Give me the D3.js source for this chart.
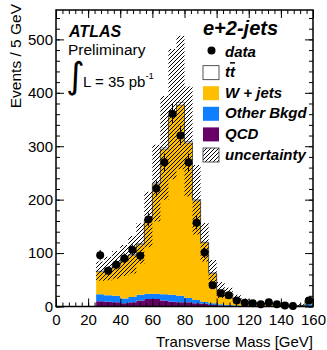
<!DOCTYPE html>
<html>
<head>
<meta charset="utf-8">
<script src="https://cdn.jsdelivr.net/npm/d3@7"></script>
<style>
  body { margin: 0; background: #fff; }
  svg { display: block; font-family: "Liberation Sans", Arial, Helvetica, sans-serif; }
</style>
</head>
<body>
<svg id="chart" width="327" height="350"></svg>
<script>
// bin lower edges in GeV, 5 GeV wide
var binEdges = [25, 30, 35, 40, 45, 50, 55, 60, 65, 70, 75, 80, 85, 90, 95, 100, 105, 110, 115, 120, 125, 130, 135, 140, 145, 150, 155];
var binWidth = 5;

var dataCounts = [96, 67, 78, 90, 106, 95, 163, 221, 270, 361, 320, 270, 157, 101, 40, 25, 21, 11, 7, 6, 4, 8, 4, 2, 1, null, 11];

var qcd       = [10, 9, 8, 6, 8, 11, 14, 14, 11, 9, 8, 8, 6, 5, 3, 2, 1.5, 1, 0.5, 0.5, 0.5, 0.5, 0.3, 0.3, 0.3, 0.3, 1];
var otherBkgd = [13, 12, 12, 9, 10, 11, 10, 10, 12, 13, 12, 8, 6, 3.4, 3, 2, 1.5, 1, 1, 0.5, 0.5, 0.5, 0.5, 0.3, 0.3, 0.3, 3];
var wJets     = [42, 49, 57, 70, 78, 94, 137, 205, 271, 334, 357, 290, 186, 111, 56, 26.5, 21.5, 12.5, 8.2, 5.7, 3.8, 2.8, 2, 1.2, 1.3, 1.3, 7.7];
var ttbar     = [1, 1, 1, 1, 1, 2, 2, 2, 3, 4, 5, 3, 2, 1, 1, 0.5, 0.5, 0.5, 0.3, 0.3, 0.2, 0.2, 0.2, 0.2, 0.1, 0.1, 0.3];
var mcUnc     = [18, 22, 26, 29, 35, 38, 52, 72, 97, 122, 125, 103, 65, 36, 24, 15, 10, 7, 5, 4, 3, 3, 2, 2, 2, 2, 5];

var xTicks = [0, 20, 40, 60, 80, 100, 120, 140, 160];
var yTicks = [0, 100, 200, 300, 400, 500];

var svg = d3.select("#chart"),
    plotL = 56, plotR = 313, plotT = 10, plotB = 306.5;

var x = d3.scaleLinear().domain([0, 160]).range([plotL, plotR]);
var y = d3.scaleLinear().domain([0, 555]).range([plotB, plotT]);

var colors = { qcd: "#660066", other: "#0f7fff", wjets: "#ffbf00", ttbar: "#ffffff" };

var defs = svg.append("defs");
defs.append("pattern")
    .attr("id", "hatch")
    .attr("patternUnits", "userSpaceOnUse")
    .attr("width", 4)
    .attr("height", 4)
    .append("path")
    .attr("d", "M-1,1 l2,-2 M0,4 l4,-4 M3,5 l2,-2")
    .attr("stroke", "#000")
    .attr("stroke-width", 1);

var rows = binEdges.map(function (e, i) {
    return { lo: e, qcd: qcd[i], other: otherBkgd[i], wjets: wJets[i], ttbar: ttbar[i] };
});
// extra point so the last step closes at the right edge
var stepRows = rows.concat([Object.assign({}, rows[rows.length - 1], { lo: binEdges[binEdges.length - 1] + binWidth })]);

var keys = ["qcd", "other", "wjets", "ttbar"];
var stack = d3.stack().keys(keys)(stepRows);

var area = d3.area()
    .curve(d3.curveStepAfter)
    .x(function (d) { return x(d.data.lo); })
    .y0(function (d) { return y(d[0]); })
    .y1(function (d) { return y(d[1]); });

svg.append("g").selectAll("path")
    .data(stack)
    .enter().append("path")
    .attr("d", area)
    .attr("fill", function (d) { return colors[d.key]; })
    .attr("stroke", function (d) { return d.key == "ttbar" ? "#444" : "none"; })
    .attr("stroke-width", 0.6);

// uncertainty band around total MC
var bandRows = stepRows.map(function (d, i) {
    var k = Math.min(i, binEdges.length - 1);
    var tot = d.qcd + d.other + d.wjets + d.ttbar;
    return { lo: d.lo, hi: tot + mcUnc[k], low: Math.max(0, tot - mcUnc[k]) };
});

svg.append("path")
    .datum(bandRows)
    .attr("d", d3.area()
        .curve(d3.curveStepAfter)
        .x(function (d) { return x(d.lo); })
        .y0(function (d) { return y(d.low); })
        .y1(function (d) { return y(d.hi); }))
    .attr("fill", "url(#hatch)");

// data points
var pts = binEdges.map(function (e, i) { return { c: e + binWidth / 2, n: dataCounts[i] }; })
    .filter(function (d) { return d.n != null; });

var dp = svg.append("g");
dp.selectAll("line")
    .data(pts)
    .enter().append("line")
    .attr("x1", function (d) { return x(d.c); })
    .attr("x2", function (d) { return x(d.c); })
    .attr("y1", function (d) { return y(d.n + Math.sqrt(d.n)); })
    .attr("y2", function (d) { return y(Math.max(0, d.n - Math.sqrt(d.n))); })
    .attr("stroke", "#000")
    .attr("stroke-width", 1);
dp.selectAll("circle")
    .data(pts)
    .enter().append("circle")
    .attr("cx", function (d) { return x(d.c); })
    .attr("cy", function (d) { return y(d.n); })
    .attr("r", 4)
    .attr("fill", "#000");

// axes, ROOT style: ticks inside on all sides
function tickAxis(axis, tr) {
    var g = svg.append("g").attr("transform", tr).call(axis);
    g.select(".domain").remove();
    g.selectAll("line").attr("stroke", "#000").attr("stroke-width", 1);
    g.selectAll("text").attr("font-size", 15).attr("fill", "#000").attr("font-family", null);
    return g;
}
var xMinor = d3.range(0, 161, 4), yMinor = d3.range(0, 556, 20);

tickAxis(d3.axisBottom(x).tickValues(xTicks).tickSize(-8).tickPadding(8).tickFormat(d3.format("d")), "translate(0," + plotB + ")");
tickAxis(d3.axisBottom(x).tickValues(xMinor).tickSize(-4).tickFormat(""), "translate(0," + plotB + ")");
tickAxis(d3.axisTop(x).tickValues(xTicks).tickSize(-8).tickFormat(""), "translate(0," + plotT + ")");
tickAxis(d3.axisTop(x).tickValues(xMinor).tickSize(-4).tickFormat(""), "translate(0," + plotT + ")");
tickAxis(d3.axisLeft(y).tickValues(yTicks).tickSize(-8).tickPadding(3).tickFormat(d3.format("d")), "translate(" + plotL + ",0)");
tickAxis(d3.axisLeft(y).tickValues(yMinor).tickSize(-4).tickFormat(""), "translate(" + plotL + ",0)");
tickAxis(d3.axisRight(y).tickValues(yTicks).tickSize(-8).tickFormat(""), "translate(" + plotR + ",0)");
tickAxis(d3.axisRight(y).tickValues(yMinor).tickSize(-4).tickFormat(""), "translate(" + plotR + ",0)");

svg.append("rect")
    .attr("x", plotL).attr("y", plotT)
    .attr("width", plotR - plotL).attr("height", plotB - plotT)
    .attr("fill", "none").attr("stroke", "#000").attr("stroke-width", 1.5);

// axis titles
svg.append("text")
    .attr("x", plotR).attr("y", 347)
    .attr("text-anchor", "end")
    .attr("font-size", 15)
    .text("Transverse Mass [GeV]");

svg.append("text")
    .attr("transform", "translate(21,4)rotate(-90)")
    .attr("text-anchor", "end")
    .attr("font-size", 15.5)
    .text("Events / 5 GeV");

// ATLAS label
svg.append("text").attr("x", 69).attr("y", 37)
    .attr("font-size", 16).attr("font-weight", "bold").attr("font-style", "italic")
    .text("ATLAS");
svg.append("text").attr("x", 68).attr("y", 55)
    .attr("font-size", 15.5)
    .text("Preliminary");
svg.append("text").attr("x", 66).attr("y", 88)
    .attr("font-size", 36).attr("font-family", "DejaVu Sans")
    .text("\u222B");
var lum = svg.append("text").attr("x", 83).attr("y", 87).attr("font-size", 15);
lum.append("tspan").text("L = 35 pb");
lum.append("tspan").attr("dy", -8).attr("font-size", 9.5).text("-1");

// legend
svg.append("text").attr("x", 203).attr("y", 35)
    .attr("font-size", 20).attr("font-weight", "bold").attr("font-style", "italic")
    .text("e+2-jets");

var legendItems = [
    { label: "data", kind: "dot" },
    { label: "tt", kind: "ttbar" },
    { label: "W + jets", kind: "wjets" },
    { label: "Other Bkgd", kind: "other" },
    { label: "QCD", kind: "qcd" },
    { label: "uncertainty", kind: "hatch" }
];

var legend = svg.append("g")
    .selectAll("g")
    .data(legendItems)
    .enter().append("g")
    .attr("transform", function (d, i) { return "translate(203," + (45 + i * 20.6) + ")"; });

legend.each(function (d) {
    var g = d3.select(this);
    if (d.kind == "dot") {
        g.append("circle").attr("cx", 8.5).attr("cy", 5.5).attr("r", 4).attr("fill", "#000");
    } else {
        g.append("rect")
            .attr("x", 0).attr("y", 0).attr("width", 16).attr("height", 14)
            .attr("fill", d.kind == "hatch" ? "url(#hatch)" : colors[d.kind])
            .attr("stroke", (d.kind == "ttbar" || d.kind == "hatch") ? "#555" : "none")
            .attr("stroke-width", 1);
    }
    var t = g.append("text").attr("x", 22).attr("y", 11.5)
        .attr("font-size", 15).attr("font-weight", "bold").attr("font-style", "italic");
    if (d.kind == "ttbar") {
        t.append("tspan").text("t");
        t.append("tspan").attr("text-decoration", "overline").text("t");
    } else {
        t.text(d.label);
    }
});
</script>
</body>
</html>
